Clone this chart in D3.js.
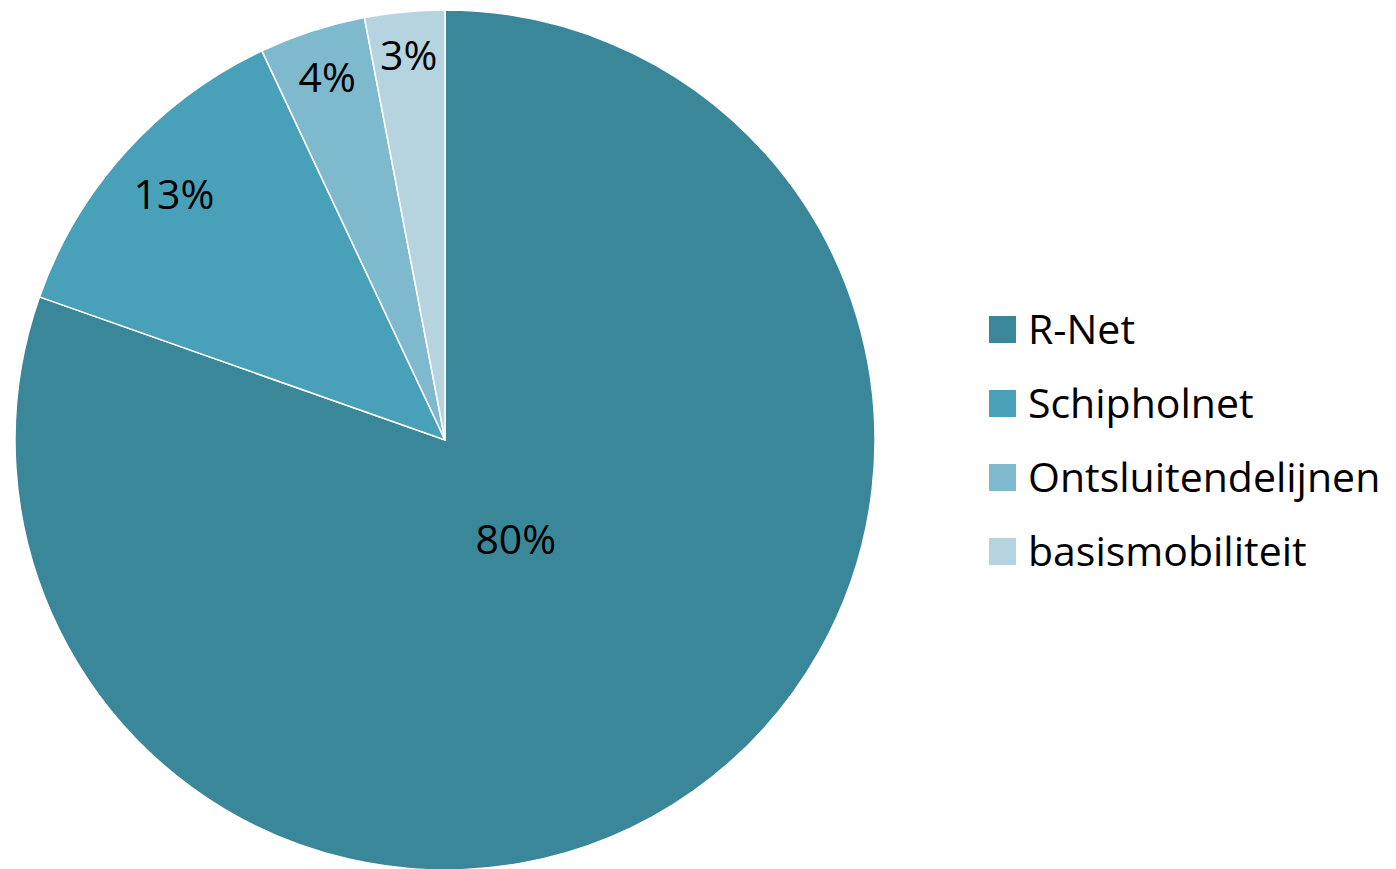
<!DOCTYPE html>
<html>
<head>
<meta charset="utf-8">
<script src="https://cdn.jsdelivr.net/npm/d3@7"></script>
<style>
  body { margin: 0; background: #fff; }
  svg { display: block; font-family: "Open Sans", "Noto Sans", sans-serif; }
</style>
</head>
<body>
<div id="chart"></div>
<script>
// data
const categories = ['R-Net', 'Schipholnet', 'Ontsluitendelijnen', 'basismobiliteit'];
const values = [80.4, 12.6, 4.0, 3.0];
const colors = ['#3b879a', '#48a1b8', '#7eb9ce', '#b5d4df'];

const width = 1396, height = 869;
const cx = 445, cy = 440, radius = 430;
const fontSize = 41;

const svg = d3.select('#chart')
  .append('svg')
  .attr('width', width)
  .attr('height', height);

const data = categories.map((c, i) => ({ name: c, value: values[i], color: colors[i] }));
const total = d3.sum(values);

const pie = d3.pie().sort(null).value(d => d.value);
const arc = d3.arc().innerRadius(0).outerRadius(radius);

const g = svg.append('g').attr('transform', 'translate(' + cx + ',' + cy + ')');

const arcs = pie(data);

g.selectAll('path')
  .data(arcs)
  .enter()
  .append('path')
  .attr('d', arc)
  .attr('fill', d => d.data.color)
  .attr('stroke', '#fff')
  .attr('stroke-width', 1.5);

// labels
const labels = g.selectAll('text.lbl')
  .data(arcs)
  .enter()
  .append('text')
  .attr('class', 'lbl')
  .attr('text-anchor', 'middle')
  .attr('dy', '0.35em')
  .attr('font-size', fontSize)
  .attr('fill', '#000')
  .text(d => Math.round(d.data.value / total * 100) + '%');

// big slice: near the middle; small slices: pushed out until the label box touches the rim
labels.attr('transform', function(d) {
  const share = d.data.value / total;
  const mid = (d.startAngle + d.endAngle) / 2;
  const sx = Math.sin(mid), sy = -Math.cos(mid);
  let r;
  if (share > 0.5) {
    r = radius * 0.285;
  } else {
    const w = this.getComputedTextLength() / 2;
    const h = fontSize * 0.45;
    const limit = radius - 22;
    let lo = 0, hi = radius;
    for (let k = 0; k < 40; k++) {
      const m = (lo + hi) / 2;
      const px = m * sx, py = m * sy;
      const far = Math.hypot(Math.abs(px) + w, Math.abs(py) + h);
      if (far > limit) hi = m; else lo = m;
    }
    r = lo;
  }
  return 'translate(' + (r * sx) + ',' + (r * sy) + ')';
});

// legend
const legend = svg.append('g').attr('transform', 'translate(989,316)');
const rows = legend.selectAll('g')
  .data(data)
  .enter()
  .append('g')
  .attr('transform', (d, i) => 'translate(0,' + (i * 74) + ')');

rows.append('rect')
  .attr('width', 27)
  .attr('height', 27)
  .attr('fill', d => d.color);

rows.append('text')
  .attr('x', 39)
  .attr('y', 13.5)
  .attr('dy', '0.35em')
  .attr('font-size', fontSize)
  .attr('fill', '#000')
  .text(d => d.name);
</script>
</body>
</html>
